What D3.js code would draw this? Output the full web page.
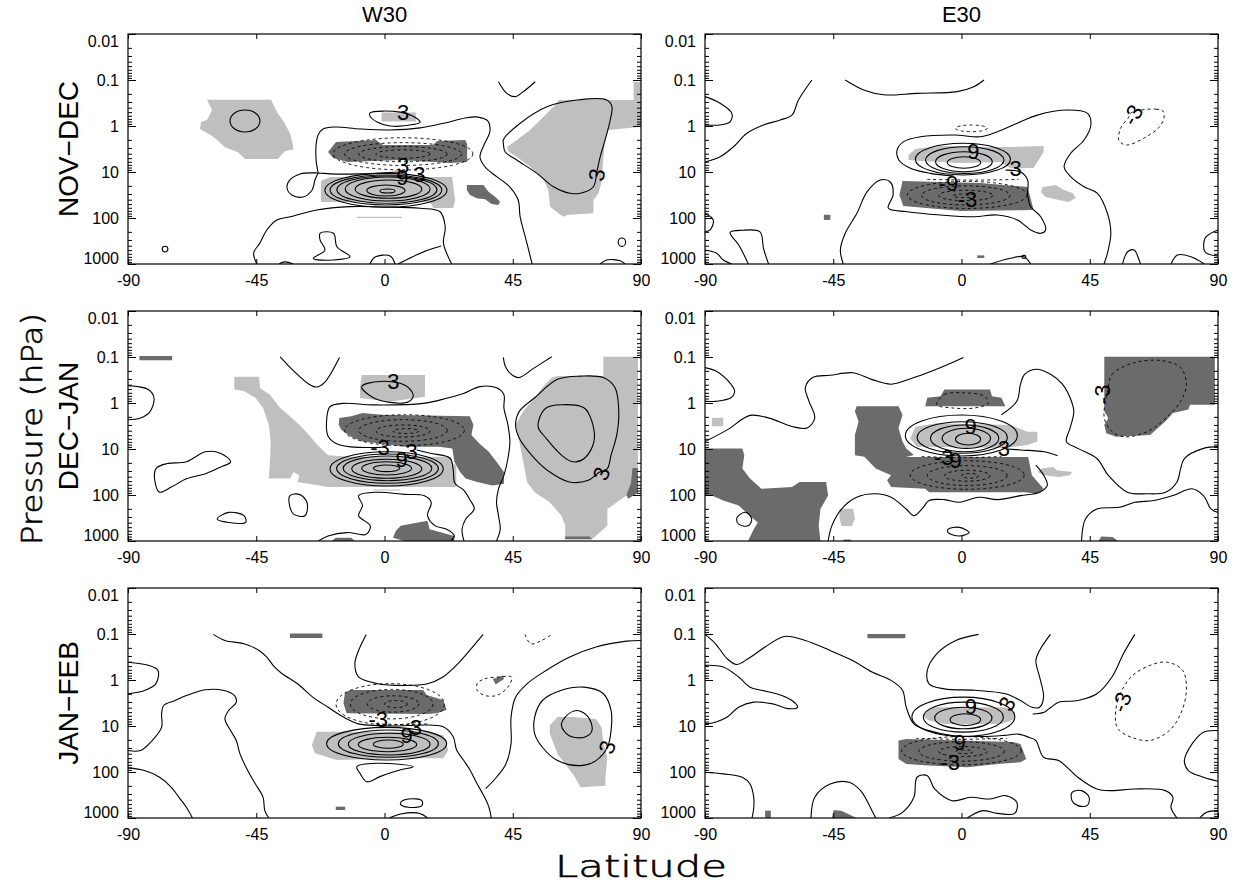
<!DOCTYPE html>
<html><head><meta charset="utf-8">
<script src="https://cdn.jsdelivr.net/npm/d3@7"></script>
<style>body{margin:0;background:#fff}</style>
</head><body>
<svg id="c" width="1237" height="883"></svg>
<script>
// ---------- axes / categories ----------
const columns = ["W30", "E30"];
const rows = ["NOV\u2212DEC", "DEC\u2212JAN", "JAN\u2212FEB"];
const latTicks = [-90, -45, 0, 45, 90];
const pTicks = [0.01, 0.1, 1, 10, 100, 1000];
const pTickLabels = ["0.01", "0.1", "1", "10", "100", "1000"];
const minorMult = [2, 3, 4, 5, 6, 7, 8, 9];

// ---------- panel A: W30 NOV-DEC  (points are [latitude, pressure hPa]) ----------
const a_light = [
 [[-62.3,0.27],[-39.8,0.27],[-37.7,0.5],[-35.3,0.82],[-33.2,1.42],[-32.1,2.6],[-32.1,3.3],[-34.9,3.5],[-37.4,5.2],[-48.9,5.2],[-51.4,3.7],[-56,2.9],[-58.4,2.1],[-60.5,1.65],[-64.7,1.16],[-64.4,0.82],[-62.3,0.74],[-60.5,0.45]],
 [[-1,0.51],[11,0.51],[11,0.8],[-1,0.8]],
 [[-22.3,15.7],[-19.1,12.8],[23.7,12.8],[24.8,40.6],[24.1,60.7],[17.1,60.7],[16,44.9],[-22.3,44.9]],
 [[-9.7,94],[6.1,94],[6.1,100],[-9.7,100]],
 [[61,0.272],[87.4,0.272],[87.4,0.109],[90,0.109],[90,1.04],[78.6,1.22],[77.4,2.01],[76.8,4.65],[76.3,14.9],[75.1,29],[73.3,40.6],[73.3,79],[64,86],[62.8,93.8],[61,79],[58.1,56.7],[57.5,24.6],[55.8,14.9],[51.1,7.67],[46.4,4.65],[43.5,3.62],[43.1,2.82],[46.4,2.01],[51.1,1.22],[55.8,0.63],[60.5,0.32]]
];
const a_dark = [
 [[-19.8,3.67],[-17,2.23],[-3,2.01],[-0.5,2.59],[17,2.59],[18.5,2.12],[28.3,2.01],[29,2.46],[29,6.06],[23,6.37],[5.5,5.48],[-13.1,6.06],[-18,4.96]],
 [[28.9,19.2],[34.7,19.2],[36.5,26.8],[38.8,34.5],[40.6,44.2],[39.9,52],[37.6,49.6],[35.3,39.2],[32.4,37.3],[30,31.6],[28.9,24.6]]
];
const a_rings = [
 [-1.6,3.7,23.4,28.6],[-6.2,7.2,19.2,33.3],[-10.3,13.1,14.9,37.3],[-13.8,16,12.8,42.7],
 [-16.7,18.4,12.2,47.9],[-19.1,20.1,11.6,52],[-20.9,21.9,10.7,58.5],
 [-54.2,-43.7,0.45,1.35],[-78,-76,410,550],[82,84.6,272,414]
];
const a_dashRings = [[-18,31,1.8,9],[-14,27,2.3,7.2],[-9,22,2.8,6],[-3,16,3.3,5]];
const a_lines = [
 [[-23.3,10.5],[-24,5.48],[-24,2.59],[-23.3,1.57],[-21.6,1.16],[-17.4,1.05],[-8.6,1.16],[1.9,1.22],[12.5,1.1],[21.2,0.86],[28.3,0.67],[32.8,0.64],[36.3,0.78],[37,1.29],[34.9,2.59],[33.5,4.72],[35.3,7.78],[39.5,12.8],[44,21.2],[46.9,40.6],[47.6,95],[49.7,301],[51.8,1000]],
 [[4.7,10],[-8.6,11],[-19.1,11],[-23.3,10.5],[-29.6,11],[-33.2,14.9],[-34.2,22.3],[-32.5,31.6],[-28.6,34.9],[-25.4,24.6],[-24.4,14.9],[-23.3,10.5]],
 [[-44.8,1000],[-45.9,577],[-43.7,349],[-41.3,182],[-37.8,110],[-33.1,94],[-23.8,67],[-12.1,56.7],[0,57.7],[12.5,61.5],[19.5,73],[21.3,155],[20.7,355],[23.6,1000]],
 [[-5.1,1000],[-3.3,705],[2,670],[3.7,1000]],
 [[-37,1000],[-35,900],[-32,1000]],
 [[4.8,1000],[9.7,705],[15.3,497],[19.9,406]],
 [[40,0.109],[42.9,0.195],[45.8,0.23],[48.7,0.179],[52.9,0.109]],
 [[75.7,1000],[77.9,818],[82.7,848],[84.4,1000]]
];
const a_loops = [
 [[-22.6,215],[-17.9,215],[-16.7,421],[-12.1,693],[-17.9,818],[-25,752],[-20.9,497],[-22.6,301]],
 [[-5.1,0.52],[5.5,0.5],[11.1,0.67],[12.5,0.82],[10,0.93],[2,1.0],[-2.6,0.82],[-5.1,0.61]],
 [[41.7,2.01],[47.6,0.87],[57,0.38],[67.5,0.272],[78,0.272],[79.8,0.38],[79.2,0.74],[77.4,2.01],[75.7,4.65],[74.5,9.85],[73.3,20.9],[68.7,29],[65.1,29],[59.3,20.9],[53.5,10.7],[46.4,5.48],[42.3,3.62],[41.7,2.38]]
];
const a_dashLines = [];
const a_dashLoops = [];
const a_labels = [[6.5,0.51,"3",0],[6.5,7.4,"3",0],[6.3,13,"9",0],[12.2,11.6,"3",0],[74.5,11.6,"3",-80]];

// ---------- panel B: E30 NOV-DEC ----------
const b_light = [
 [[-18.6,4.27],[-16.2,3.16],[-7.4,2.72],[10.2,2.86],[17.2,2.86],[28.8,2.72],[28.8,3.67],[25.3,8.2],[17.2,8.2],[13.7,6.06],[-0.3,6.37],[-14.4,5.77],[-18.6,5.48]],
 [[28.5,21.2],[33.1,19.2],[35.9,24.6],[39,28.6],[40.1,36.8],[37.6,44.9],[34.1,40.6],[29.5,34.9],[27.8,27.2]]
];
const b_dark = [
 [[-20.7,15.7],[6.7,17.4],[23.2,21.2],[25.3,67],[-0.3,70.4],[-20.4,54.8],[-21.8,31.6]],
 [[-48.3,85],[-46,85],[-46,110],[-48.3,110]],
 [[5.5,650],[8,650],[8,740],[5.5,740]]
];
const b_rings = [[-5,6.7,4.65,8.3],[-9.1,10.8,3.62,9.85],[-12.6,14.9,2.82,10.7],[-16.2,17.2,2.38,11.6],[21.2,22.6,650,760]];
const b_dashRings = [[-2.1,9,0.95,1.33],[-19,23,16,62],[-14,17,20,52],[-8,11,25,42],[-3,5,30,36]];
const b_lines = [
 [[-89.8,5.97],[-84.7,4.65],[-80,2.82],[-75.3,1.44],[-69.5,0.95],[-63.6,0.74],[-59.5,0.58],[-57.2,0.272],[-52.5,0.1]],
 [[-90,0.23],[-84.7,0.32],[-80.6,0.53],[-81.2,0.81],[-84.7,0.95],[-90,0.95]],
 [[-40.8,0.1],[-34.3,0.165],[-27.3,0.21],[-15.6,0.195],[-1.5,0.179],[4.3,0.14],[7.9,0.1]],
 [[-2.8,12.2],[-10.9,10.7],[-17.9,8.3],[-22,5.48],[-22.6,3.33],[-20.3,2.19],[-14.4,1.71],[-2.7,1.57],[6.7,1.71],[12.6,1.33],[19.6,0.87],[26.6,0.58],[37.2,0.45],[44.2,0.53],[45.4,0.95],[43,2.01],[38.3,3.92],[36,7.67],[38.3,12.6],[43,20.9],[47.7,29],[51.2,79],[52.4,215],[51.2,585],[50,1000]],
 [[-41.5,1000],[-42.5,497],[-40.8,215],[-36.7,79],[-33.1,26.8],[-28.5,14.9],[-25,16.5],[-24,31.6],[-25.7,60.7],[-19.1,73],[-7.4,86],[4.3,93.8],[12.6,86],[19.6,110],[24.3,182],[27.8,215],[29.5,182],[27.8,93.8],[24.3,56.7],[23.2,31.6],[23.2,14.9],[20.8,10],[15.5,9.1]],
 [[-74.8,1000],[-78,400],[-81.2,205],[-77,185],[-70.7,200],[-69.5,450],[-67.7,1000]],
 [[-90,79],[-87.1,110],[-88.2,182],[-90,199]],
 [[-90,497],[-85.9,585],[-83.6,818],[-80.6,1000]],
 [[10.2,1000],[17.2,752],[21.9,693],[24.3,1000]],
 [[56.5,1000],[58.3,541],[60.6,497],[62.3,818],[62.8,1000]],
 [[73.5,1000],[75.8,637],[80.5,693],[85.2,1000]],
 [[90,182],[85.5,272],[85.5,548],[90,670]]
];
const b_loops = [];
const b_dashLines = [[[-12,14.5],[5,15],[20,14.5]]];
const b_dashLoops = [[[59.4,0.52],[68.2,0.43],[71,0.5],[70,0.95],[64.7,1.73],[57.7,2.59],[55.2,2.01],[55.9,1.1],[58.7,0.64]]];
const b_labels = [[4.2,3.67,"9",0],[19,8.2,"3",0],[-4.6,17.4,"-9",0],[2.1,40.6,"-3",0],[60.1,0.58,"-3",-60]];

// ---------- panel C: W30 DEC-JAN ----------
const c_light = [
 [[-52.7,0.27],[-44,0.27],[-43.7,0.47],[-40.2,0.66],[-36.6,1.28],[-33.2,1.95],[-29.9,2.98],[-26.5,4.94],[-23.6,8.2],[-19.8,13.6],[-11.7,14.8],[23.2,14.8],[23.2,19],[25.2,22.5],[25.2,67],[9.7,67],[-19.8,67],[-30.5,52],[-29.9,37],[-31.9,32],[-33.2,44],[-40.6,44],[-40.2,19],[-39.9,6.9],[-40.6,2.98],[-42.6,1.28],[-45.3,0.77],[-49.3,0.55],[-52.7,0.51]],
 [[-8,0.246],[14.2,0.246],[14.2,0.73],[1.9,0.94],[-8.6,0.78],[-8.6,0.47]],
 [[60.7,0.26],[76.8,0.26],[76.8,0.099],[88.9,0.099],[88.9,73],[84.9,103],[78.2,202],[78.2,468],[72.8,919],[63.4,919],[63.4,468],[62.1,282],[58,144],[52.7,87],[50,52],[48.7,19],[47.3,6.9],[46,2.98],[48.7,1.52],[52.7,0.77],[55.4,0.467],[58.7,0.28]],
 [[-3.9,76],[5.4,76],[5.4,80],[-3.9,80]]
];
const c_dark = [
 [[-86,0.095],[-74.5,0.095],[-74.5,0.118],[-86,0.118]],
 [[-15.8,2.13],[-11.7,1.95],[-7.7,1.65],[-1,1.8],[29.9,1.95],[31.2,2.98],[30.5,4.94],[33.2,7.5],[36.6,11.5],[39.3,19],[41.9,31.6],[41.9,57],[37.9,62],[32.5,52],[28.5,44],[26.5,31.6],[24.5,19],[23.8,9.7],[19.1,8.9],[7,8.9],[-2.3,7.5],[-7.7,6.9],[-11.7,5.4],[-15.1,3.84],[-16.1,2.98]],
 [[5.7,468],[15.1,364],[15.8,554],[24.5,776],[24.5,1000],[7,1000],[3,845],[4,600]],
 [[-18.5,1000],[-17.1,845],[-11.7,845],[-10.4,1000]],
 [[87,26],[88.9,26],[88.9,90],[85.5,120],[84.9,100],[86.5,55]],
 [[63.4,800],[72,800],[72.8,919],[63.4,919]]
];
const c_rings = [[-3.9,5.4,22.3,31.1],[-8,9.5,18.9,36.7],[-11.5,13.1,16.7,43.4],[-14.5,16.6,14.2,48.9],[-16.8,18.9,12.8,55.7],[-19.1,20.6,11.5,63.7]];
const c_dashRings = [[-14,28,1.8,8.5],[-9,22,2.3,6.8],[-3,16,3,5.5],[3,12,3.6,4.6]];
const c_lines = [
 [[-1,9.2],[-15.6,8.2],[-19.7,5.4],[-20.3,2.34],[-19.1,1.2],[-14.5,1.02],[-3.9,1.1],[13.6,1.02],[21.8,0.79],[27.7,0.62],[33.5,0.44],[39.3,0.467],[41.9,0.66],[41.9,1.28],[43.3,2.98],[44,6.9],[43.3,16.1],[41.9,37.3],[40,73.3],[39.3,144],[40,282],[40.6,554],[39.3,1000]],
 [[11.3,10.5],[16,12.4],[23,15.9],[24.1,28.6],[24.7,55.7],[27.7,77.8],[30,128],[31.5,200],[28.5,334],[27.2,554],[27.9,1000]],
 [[-23.2,1000],[-19.8,776],[-13.1,656],[-6.4,717],[-5,468],[-9.1,282],[-7.7,170],[-9.1,103],[-2.3,87],[7,97],[13.8,103],[16.4,144],[15.1,282],[17.8,468],[21.8,554],[24.5,776],[23.2,1000]],
 [[-36.6,0.099],[-31.9,0.2],[-26.5,0.39],[-23.8,0.45],[-21.1,0.36],[-15.8,0.102]],
 [[41.7,0.102],[42.6,0.17],[45.3,0.26],[47.3,0.28],[52.7,0.17],[58.7,0.099]],
 [[-90,0.42],[-82.9,0.51],[-80.9,0.77],[-82.2,1.52],[-85.6,2.13],[-90,2.32]]
];
const c_loops = [
 [[-80.2,26.7],[-76.2,20.7],[-69.5,19],[-62.8,11.5],[-57.4,12.5],[-54,19],[-57.4,24.5],[-62.8,34.4],[-69.5,44.2],[-74.8,67.4],[-78.9,86.8],[-80.5,52.4]],
 [[-58.7,334],[-54.7,239],[-49.3,282],[-48.7,395],[-54.7,395]],
 [[-33.2,103],[-29.9,97],[-27.2,144],[-27.9,282],[-31.9,260],[-33.3,170]],
 [[-8,0.44],[-1.6,0.34],[7.2,0.41],[10.1,0.67],[8.4,0.94],[1.9,0.97],[-4.5,0.73]],
 [[46,2.98],[47.3,1.52],[52.7,0.77],[60.7,0.306],[68.8,0.26],[76.8,0.28],[80.9,0.467],[82.2,1.52],[81.5,4.94],[79.5,13.6],[78.2,26.7],[75.5,31.6],[71.5,48],[64.8,52],[58,31.6],[52.7,16.1],[47.3,5.85]],
 [[54,2.53],[56.7,1.28],[62.1,1.09],[70.1,1.28],[72.8,2.53],[73.5,6.9],[70.1,16.1],[66.1,19],[62.1,13.6],[56.7,5.85],[54,3.5]]
];
const c_dashLines = [];
const c_dashLoops = [];
const c_labels = [[3.1,0.34,"3",0],[-1.6,9.2,"-3",0],[6,17,"9",0],[9.5,11.5,"3",0],[76.2,34.4,"3",-70]];

// ---------- panel D: E30 DEC-JAN ----------
const d_light = [
 [[-16.2,3.27],[-8.5,2.76],[17.2,3.0],[23.1,4.2],[26.6,4.2],[26.6,6.9],[23.1,8.2],[15,9.5],[-15.6,8.9],[-18,6]],
 [[-87.6,2.1],[-83.6,2.1],[-83.6,3.2],[-87.6,3.2]],
 [[-42.8,200],[-38,200],[-37.4,330],[-38.5,470],[-42.1,470],[-42.8,330]],
 [[28.1,26.7],[32.1,24.5],[33.4,29.1],[38.8,31.6],[38.1,37.3],[34.1,40.6],[28.8,37.3],[26.7,31.6]]
];
const d_dark = [
 [[-90,9.7],[-76.9,9.7],[-76.2,13.6],[-76.9,26.7],[-74.2,44],[-70.2,73],[-59.5,67],[-56.8,52],[-47.5,52],[-46.8,103],[-49.5,202],[-50.1,468],[-49.5,1000],[-74.9,1000],[-72.9,554],[-71.5,395],[-74.2,282],[-78.2,170],[-83.6,132],[-87.6,103],[-90,103]],
 [[-36.8,1.18],[-22.1,1.18],[-20.7,1.8],[-22.1,3.5],[-20.7,6.9],[-19.4,9.7],[-16.7,13.5],[-19.4,15],[23.4,15],[24.7,37.3],[28.8,73],[26.7,94],[22.1,87],[-11.4,87],[-12.7,73],[-24.7,67],[-26.1,48],[-24.7,37.3],[-30.1,26.7],[-34.1,14.8],[-37.4,13.6],[-37.4,4.94],[-36.1,2.53],[-37.4,1.52]],
 [[-12.7,1.18],[-12,0.77],[-7.4,0.71],[-6,0.51],[10,0.51],[10.7,0.71],[14,0.77],[15.4,1.18]],
 [[50.1,0.099],[88.9,0.099],[88.9,1.09],[80.2,1.09],[79.6,1.39],[74.2,1.65],[71.5,2.53],[68.9,3.5],[66.2,4.94],[54.2,5.4],[50.8,4.55],[50.1,2.98],[51.5,2.13],[50.1,1.52]],
 [[48.1,1000],[49,800],[53,820],[55,1000]],
 [[-42,1000],[-41,930],[-39,930],[-38.5,1000]]
];
const d_rings = [[-2.1,6.7,4.56,8.2],[-6.8,10.2,3.55,9.7],[-10.9,13.1,3.0,11.5],[-15.6,16.1,2.55,12.4],[-19.7,19.6,1.82,14.2]];
const d_dashRings = [[-18,22,18,75],[-12,16,23,62],[-6,10,29,50],[0,6,34,43]];
const d_lines = [
 [[-90,6.9],[-82.2,3.84],[-74.2,1.86],[-67.5,2.13],[-59.5,3.24],[-54.2,3.5],[-51.5,2.13],[-53.5,0.92],[-54.8,0.467],[-52.2,0.28],[-46.1,0.25],[-38.1,0.22],[-31.4,0.31],[-24.7,0.39],[-16.7,0.28],[-6,0.156],[0.7,0.102]],
 [[14,1.8],[19.4,0.92],[20.7,0.39],[22.1,0.24],[26.1,0.185],[31.4,0.24],[35.4,0.39],[38.1,0.77],[39.4,1.52],[38.1,3.5],[36.8,6.9],[40.8,9.7],[47.5,16.1],[51.5,37.3],[58.2,87],[64.9,94],[71.6,87],[75.6,52],[76.9,26.7],[78.2,16.1],[84.9,9.7],[90,8.9]],
 [[16,10],[20.8,10.5],[29,11.5],[33.7,14]],
 [[-46.8,1000],[-45.5,468],[-42.1,202],[-36.8,112],[-30.1,94],[-24.7,112],[-19.4,202],[-16.7,282],[-13.4,185],[-11.4,132],[-6,126],[-0.7,144],[6,112],[12.7,126],[20.7,103],[27.4,87],[30.1,62],[28.8,37],[26.1,22.5]],
 [[-90,0.17],[-86.3,0.2],[-80.9,0.39],[-79.6,0.55],[-80.9,0.77],[-86.3,0.92],[-90,0.92]],
 [[42.1,1000],[43.5,334],[47.5,202],[55.5,185],[60.8,144],[67.5,132],[74.2,103],[80.9,73],[84.9,103],[87.6,202],[90,239]]
];
const d_loops = [
 [[-78.2,282],[-75.6,239],[-73.6,334],[-74.9,468],[-78.2,431],[-78.9,334]],
 [[-4.7,554],[-0.7,505],[2.7,656],[-0.7,776],[-4.7,656]]
];
const d_dashLines = [[[-14,14.5],[0,15.5],[14,14.5]]];
const d_dashLoops = [
 [[-8.7,1.09],[-6,0.655],[0.7,0.6],[8,0.71],[9.4,1.0],[4.7,1.28],[-3.3,1.28]],
 [[51.5,0.467],[52.8,0.24],[60.8,0.132],[70.2,0.12],[76.9,0.17],[78.9,0.39],[76.9,0.92],[72.9,1.8],[67.5,3.5],[62.1,4.94],[56.8,5.4],[52.8,4.19],[50.1,2.13]]
];
const d_labels = [[3.2,3.26,"9",0],[14.9,9.7,"3",0],[-6.2,15.1,"-3",0],[-2.1,18,"9",0],[49.5,0.65,"-3",-90]];

// ---------- panel E: W30 JAN-FEB ----------
const e_light = [
 [[-23.8,13.3],[13.6,13.3],[20.6,15.7],[22.4,33.3],[20.6,50.3],[7.8,50.3],[-16.8,54.8],[-24.4,39.2],[-25.5,25.9]],
 [[58,9.8],[60.7,6.4],[66.1,6.4],[74.2,7.0],[76.2,10.6],[76.8,24.5],[78.2,47.8],[77.5,130],[77.5,198],[68.8,215],[67.5,154],[66.1,110],[63.4,66.7],[60.7,40.4],[59.4,24.5],[58,14.8]]
];
const e_dark = [
 [[-33.2,0.098],[-21.8,0.098],[-21.8,0.122],[-33.2,0.122]],
 [[-13.9,1.95],[-12.1,1.65],[13.6,1.65],[14.8,2.12],[20.6,2.72],[21.8,4.49],[18.3,5.3],[14.8,5.48],[-13.3,5.3],[-14.4,3.21]],
 [[-17.1,567],[-13.8,567],[-13.8,670],[-17.1,670]],
 [[38,0.95],[41.5,0.8],[41.9,0.95],[39,1.25]]
];
const e_rings = [[-3.9,6.6,20.2,30.5],[-9.2,11.3,17.6,36.2],[-12.7,16,14.4,42.7],[-16.2,18.9,12.2,47.9],[-20.3,21.8,10.7,54.8]];
const e_dashRings = [[-17,21,1.2,9.5],[-12,17,1.6,7],[-6,12,2.2,5],[0,8,2.8,4]];
const e_lines = [
 [[-90,0.41],[-82.9,0.48],[-79.5,0.62],[-80.2,1.2],[-84.2,1.7],[-90,2.0]],
 [[-90,34.2],[-85.6,34.2],[-81.5,20.7],[-78.2,10.6],[-78.2,5.44],[-77.5,3.58],[-73.5,2.79],[-69.5,2.17],[-62.8,1.63],[-56.7,1.67],[-52.7,2.17],[-52,3.03],[-54.7,4.6],[-56,7.0],[-54,12.6],[-52,20.7],[-50.7,40.4],[-48,93],[-45.3,182],[-42.6,355],[-42,692],[-40.6,1000]],
 [[-90,81.5],[-84.2,93],[-78.9,130],[-74.8,215],[-72.1,355],[-69.5,586],[-67.4,1000]],
 [[-60.1,0.102],[-56,0.138],[-49.3,0.163],[-44,0.228],[-41.3,0.32],[-38.6,0.52],[-35.9,0.73],[-30.5,1.21],[-25.2,2.36],[-19.8,3.9],[-14.4,6.4],[-9.1,9.0],[-2.3,9.8],[4,10],[13.6,9.5],[20.6,10.4],[24.1,17.1],[25.3,33.3],[27.7,54.8],[30,90.5],[32.4,176],[34.5,300],[36.5,550],[37.5,1000]],
 [[-6.4,0.102],[-9.1,0.228],[-10.4,0.44],[-9.1,0.86],[-2.3,1.21],[7,1.32],[15.1,1.21],[20.5,0.86],[25.8,0.44],[29.9,0.228],[34.6,0.102]],
 [[90,0.138],[84.9,0.143],[74.2,0.192],[64.8,0.32],[56.7,0.62],[50,1.21],[46,2.36],[44.4,6.4],[44.4,24.5],[42.6,66.7],[39.3,130],[35.5,230]],
 [[1.7,1000],[5.7,818],[12.4,795],[15.1,1000]]
];
const e_loops = [
 [[-9.7,76.7],[-2.7,64.7],[10.1,76.7],[5.4,90.5],[-1.6,126],[-6.2,163],[-8.6,107]],
 [[5.7,456],[8.4,386],[13.1,420],[13.1,538],[8.4,586],[5.7,513]],
 [[52.7,6.4],[55.4,2.79],[62.1,1.67],[70.1,1.43],[76.8,1.99],[79.5,4.6],[79.5,12.6],[78.2,29],[74.2,56.5],[68.8,72.6],[60.7,56.5],[55.4,29],[52.7,14.8]],
 [[63.4,6.4],[67.5,4.6],[71.5,6.4],[72.8,12.6],[70.1,17.5],[64.8,16.3],[62.1,9.8]]
];
const e_dashLines = [[[49.3,0.102],[51.3,0.163],[55,0.14],[58.7,0.102]],[[-3,9],[8,9.3],[15,9]]];
const e_dashLoops = [[[32.5,1.21],[35.2,0.94],[40.6,0.86],[44.6,0.86],[43.3,1.43],[39.3,2.17],[35.2,2.17],[32.5,1.67]]];
const e_labels = [[-2.2,7.4,"-3",0],[7.8,15.7,"9",0],[11,10.7,"3",0],[78.2,29,"3",-70]];

// ---------- panel F: E30 JAN-FEB ----------
const f_light = [[[-13.4,6.2],[-12.7,5.0],[-10,3.9],[15.4,3.9],[18.7,5.0],[18.7,7.0],[14,9.0],[-6,9.0],[-11.4,7.6]]];
const f_dark = [
 [[-33,0.1],[-19.7,0.1],[-19.7,0.123],[-33,0.123]],
 [[-22.1,20.7],[-19.4,19.1],[18,22.4],[20.7,24.5],[22.7,52],[20.7,61.4],[12.7,66.7],[2,79],[-11.4,72.6],[-19.4,66.7],[-22.1,52]],
 [[-68.9,692],[-66.9,692],[-66.9,1000],[-68.9,1000]],
 [[-45.5,1000],[-44.8,670],[-42,700],[-36.8,1000]]
];
const f_rings = [[-4,6.7,5.4,9.8],[-9.4,10.7,3.9,11.5],[-13.4,14.7,3.03,13.6],[-17.4,18.7,2.36,16.9]];
const f_dashRings = [[-21,21,17,70],[-15,15,22,58],[-8,9,28,46],[-2,4,33,40]];
const f_lines = [
 [[-90,0.102],[-86.3,0.163],[-82.2,0.345],[-78.9,0.46],[-74.9,0.345],[-68.9,0.192],[-62.2,0.113],[-54.8,0.138],[-46.1,0.228],[-38.1,0.38],[-31.4,0.67],[-24.7,1.02],[-20.7,1.67],[-19.4,3.9],[-16.7,9.0],[-11.4,12.6],[-3.3,16.1],[7.4,16.9],[15,16],[20,15],[24,18]],
 [[24,18],[26.1,20.7],[28.8,47.8],[34.1,56.5],[40.8,130],[47.5,234],[52.8,254],[60.8,234],[71.5,254],[74.2,355],[73.5,586],[75.6,1000]],
 [[-90,0.48],[-83.6,0.52],[-78.2,0.86],[-74.2,1.43],[-70.2,1.67],[-64.9,1.99],[-59.5,2.79],[-57.5,3.9],[-60.8,4.2],[-66.2,3.3],[-72.9,3.03],[-78.2,3.9],[-82.2,6.4],[-86.3,8.3],[-90,9.0]],
 [[-90,101],[-83.6,110],[-76.9,130],[-74.2,182],[-72.9,355],[-72.9,600],[-73.5,1000]],
 [[-52.8,1000],[-51.5,355],[-46.1,182],[-39.5,167],[-35.4,254],[-31.4,692],[-30.1,1000]],
 [[-25.4,1000],[-20.7,753],[-16.7,355],[-15.6,130],[-12,120],[-9.4,234],[-3.3,420],[3.3,355],[10,386],[15.4,326],[19.4,456],[18.7,795],[12.7,795],[7.4,692],[3.3,889],[2,1000]],
 [[6,0.102],[-2,0.138],[-8.7,0.27],[-12,0.62],[-11.4,1.21],[-6,1.56],[4.7,1.67],[15.4,1.99],[20.7,2.79],[24.7,3.9],[27.4,3.9],[28.8,2.36],[27.4,0.86],[26.1,0.38],[27.4,0.228],[31.2,0.102]],
 [[60.8,0.102],[56.8,0.27],[52.8,0.86],[47.5,1.99],[40.8,2.79],[34.1,3.03],[31.4,3.9],[29,5],[25,5.5]],
 [[90,12.6],[84.9,13.6],[80.9,24.5],[78.2,56.5],[79.6,93],[84.9,130],[90,159]],
 [[83.6,1000],[86,750],[90,692]]
];
const f_loops = [[[38.8,276],[42.1,254],[44.8,355],[44.1,538],[40.8,538],[38.8,420]]];
const f_dashLines = [[[-16,18.5],[0,19.5],[16,18.5]]];
const f_dashLoops = [[[54.2,9.0],[54.8,2.79],[59.5,0.86],[66.2,0.48],[72.2,0.41],[77.6,0.62],[78.9,1.67],[76.9,5.44],[72.9,12.6],[66.2,20.7],[59.5,17.5],[55.5,12.6]]];
const f_labels = [[3.3,3.7,"9",0],[16,3.3,"3",-60],[-0.7,22.4,"9",0],[-4,61.4,"-3",0],[56.2,3.03,"-3",-70]];

// ---------- assemble ----------
const panels = [
 {col:0,row:0,light:a_light,dark:a_dark,rings:a_rings,dashRings:a_dashRings,lines:a_lines,loops:a_loops,dashLines:a_dashLines,dashLoops:a_dashLoops,labels:a_labels},
 {col:1,row:0,light:b_light,dark:b_dark,rings:b_rings,dashRings:b_dashRings,lines:b_lines,loops:b_loops,dashLines:b_dashLines,dashLoops:b_dashLoops,labels:b_labels},
 {col:0,row:1,light:c_light,dark:c_dark,rings:c_rings,dashRings:c_dashRings,lines:c_lines,loops:c_loops,dashLines:c_dashLines,dashLoops:c_dashLoops,labels:c_labels},
 {col:1,row:1,light:d_light,dark:d_dark,rings:d_rings,dashRings:d_dashRings,lines:d_lines,loops:d_loops,dashLines:d_dashLines,dashLoops:d_dashLoops,labels:d_labels},
 {col:0,row:2,light:e_light,dark:e_dark,rings:e_rings,dashRings:e_dashRings,lines:e_lines,loops:e_loops,dashLines:e_dashLines,dashLoops:e_dashLoops,labels:e_labels},
 {col:1,row:2,light:f_light,dark:f_dark,rings:f_rings,dashRings:f_dashRings,lines:f_lines,loops:f_loops,dashLines:f_dashLines,dashLoops:f_dashLoops,labels:f_labels}
];

// ---------- layout ----------
const W = 513, H = 230;
const colX = [128, 705];
const rowY = [34, 311, 588];
const LIGHT = "#bfbfbf", DARK = "#6b6b6b";
const FONT = "'Liberation Sans', Arial, Helvetica, sans-serif";

const svg = d3.select("#c");
svg.append("rect").attr("width",1237).attr("height",883).attr("fill","#fff");

const x = d3.scaleLinear().domain([-90, 90]).range([0, W]);
const y = d3.scaleLog().domain([0.01, 1000]).range([0, H]);
const minorTicks = [];
pTicks.slice(0, -1).forEach(t => minorMult.forEach(m => minorTicks.push(t * m)));

const lineGen = d3.line().x(d => x(d[0])).y(d => y(d[1])).curve(d3.curveCatmullRom.alpha(0.5));
const loopGen = d3.line().x(d => x(d[0])).y(d => y(d[1])).curve(d3.curveCatmullRomClosed.alpha(0.5));
const polyGen = d3.line().x(d => x(d[0])).y(d => y(d[1])).curve(d3.curveLinearClosed);

panels.forEach((P, i) => {
  const g = svg.append("g").attr("transform", `translate(${colX[P.col]},${rowY[P.row]})`);
  const cid = "clip" + i;
  g.append("clipPath").attr("id", cid).append("rect").attr("width", W).attr("height", H);
  const body = g.append("g").attr("clip-path", `url(#${cid})`);

  body.selectAll(null).data(P.light).join("path").attr("d", polyGen).attr("fill", LIGHT).attr("stroke", "none");
  body.selectAll(null).data(P.dark).join("path").attr("d", polyGen).attr("fill", DARK).attr("stroke", "none");

  const ell = (sel, data, dash) => sel.selectAll(null).data(data).join("ellipse")
      .attr("cx", d => (x(d[0]) + x(d[1])) / 2).attr("rx", d => (x(d[1]) - x(d[0])) / 2)
      .attr("cy", d => (y(d[2]) + y(d[3])) / 2).attr("ry", d => (y(d[3]) - y(d[2])) / 2)
      .attr("fill", "none").attr("stroke", "#000").attr("stroke-width", dash ? 0.9 : 1.1)
      .attr("stroke-dasharray", dash ? "3,3" : null);
  ell(body, P.rings, false);
  ell(body, P.dashRings, true);

  body.selectAll(null).data(P.lines).join("path").attr("d", lineGen)
      .attr("fill", "none").attr("stroke", "#000").attr("stroke-width", 1.1);
  body.selectAll(null).data(P.loops).join("path").attr("d", loopGen)
      .attr("fill", "none").attr("stroke", "#000").attr("stroke-width", 1.1);
  body.selectAll(null).data(P.dashLines).join("path").attr("d", lineGen)
      .attr("fill", "none").attr("stroke", "#000").attr("stroke-width", 0.9).attr("stroke-dasharray", "3,3");
  body.selectAll(null).data(P.dashLoops).join("path").attr("d", loopGen)
      .attr("fill", "none").attr("stroke", "#000").attr("stroke-width", 0.9).attr("stroke-dasharray", "3,3");

  body.selectAll(null).data(P.labels).join("text")
      .attr("transform", d => `translate(${x(d[0])},${y(d[1])}) rotate(${d[3]})`)
      .attr("text-anchor", "middle").attr("dominant-baseline", "central")
      .attr("font-family", FONT).attr("font-size", 22).attr("fill", "#000")
      .text(d => d[2]);

  // axes
  const styleAxis = a => { a.select(".domain").remove(); a.selectAll("text").attr("font-family", FONT).attr("font-size", 16).attr("fill", "#000"); a.selectAll("line").attr("stroke", "#000"); };
  g.append("g").attr("transform", `translate(0,${H})`)
    .call(d3.axisBottom(x).tickValues(latTicks).tickFormat(d => String(d)).tickSizeInner(-5).tickSizeOuter(0).tickPadding(11)).call(styleAxis);
  g.append("g").call(d3.axisTop(x).tickValues(latTicks).tickFormat("").tickSizeInner(-5).tickSizeOuter(0)).call(styleAxis);
  const yl = g.append("g").call(d3.axisLeft(y).tickValues(pTicks).tickFormat((d, k) => pTickLabels[k]).tickSizeInner(-8).tickSizeOuter(0).tickPadding(9)).call(styleAxis);
  yl.selectAll(".tick text").attr("dy", (d, k) => k === 0 ? "0.75em" : (k === pTicks.length - 1 ? "-0.05em" : "0.32em"));
  g.append("g").call(d3.axisLeft(y).tickValues(minorTicks).tickFormat("").tickSizeInner(-4).tickSizeOuter(0)).call(styleAxis);
  g.append("g").attr("transform", `translate(${W},0)`).call(d3.axisRight(y).tickValues(pTicks).tickFormat("").tickSizeInner(-8).tickSizeOuter(0)).call(styleAxis);
  g.append("g").attr("transform", `translate(${W},0)`).call(d3.axisRight(y).tickValues(minorTicks).tickFormat("").tickSizeInner(-4).tickSizeOuter(0)).call(styleAxis);
  g.append("rect").attr("width", W).attr("height", H).attr("fill", "none").attr("stroke", "#000").attr("stroke-width", 1.2);
});

// titles
svg.selectAll(".ctitle").data(columns).join("text")
  .attr("x", (d, i) => colX[i] + W / 2).attr("y", 22).attr("text-anchor", "middle")
  .attr("font-family", FONT).attr("font-size", 22).text(d => d);
svg.selectAll(".rtitle").data(rows).join("text")
  .attr("transform", (d, i) => `translate(78,${rowY[i] + H / 2}) rotate(-90)`).attr("text-anchor", "middle")
  .attr("font-family", FONT).attr("font-size", 28).text(d => d);
svg.append("text").attr("transform", "translate(42,429) rotate(-90)").attr("text-anchor", "middle")
  .attr("font-family", "'DejaVu Sans', sans-serif").attr("font-size", 29).attr("font-weight", 200)
  .attr("fill", "#000").attr("stroke", "#000").attr("stroke-width", 0.6)
  .attr("textLength", 232).attr("lengthAdjust", "spacingAndGlyphs").text("Pressure (hPa)");
svg.append("text").attr("x", 641).attr("y", 877).attr("text-anchor", "middle")
  .attr("font-family", "'DejaVu Sans', sans-serif").attr("font-size", 30).attr("font-weight", 200)
  .attr("fill", "#000").attr("stroke", "#000").attr("stroke-width", 0.6)
  .attr("textLength", 172).attr("lengthAdjust", "spacingAndGlyphs").text("Latitude");
</script>
</body></html>
